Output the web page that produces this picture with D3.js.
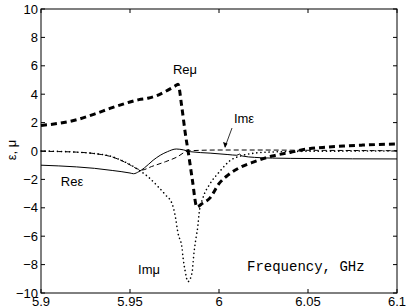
<!DOCTYPE html>
<html>
<head>
<meta charset="utf-8">
<script src="https://cdn.jsdelivr.net/npm/d3@7"></script>
<style>
  body { margin: 0; background: #fff; }
  svg { display: block; font-family: "Liberation Sans", Arial, sans-serif; }
</style>
</head>
<body>
<svg width="409" height="308"></svg>
<script>
// frequency (GHz) / value pairs
const reMuF = [5.9, 5.91, 5.92, 5.93, 5.94, 5.95, 5.955, 5.96, 5.965, 5.97, 5.975, 5.977, 5.979, 5.981, 5.983, 5.985, 5.9876, 5.99, 5.995, 6.0, 6.005, 6.012, 6.02, 6.03, 6.04, 6.05, 6.06, 6.07, 6.08, 6.09, 6.1];
const reMuV = [1.8, 1.95, 2.2, 2.6, 3.05, 3.45, 3.62, 3.72, 3.9, 4.2, 4.55, 4.7, 3.2, 1.3, -0.3, -2.0, -3.95, -3.75, -3.3, -2.3, -1.7, -1.15, -0.75, -0.35, -0.1, 0.15, 0.27, 0.35, 0.41, 0.46, 0.5];

const imMuF = [5.9, 5.91, 5.92, 5.93, 5.94, 5.945, 5.95, 5.955, 5.96, 5.9657, 5.97, 5.9736, 5.9753, 5.977, 5.9792, 5.9798, 5.9809, 5.9826, 5.9848, 5.986, 5.9871, 5.9882, 5.9888, 5.991, 5.995, 6.0, 6.006, 6.0135, 6.02, 6.03, 6.05, 6.1];
const imMuV = [0.0, -0.03, -0.08, -0.18, -0.4, -0.65, -0.95, -1.35, -1.8, -2.5, -3.1, -3.7, -4.5, -5.8, -6.8, -7.5, -8.4, -9.2, -8.6, -7.1, -6.1, -5.2, -4.4, -3.3, -2.3, -1.5, -0.7, -0.3, -0.15, -0.07, -0.02, 0.0];

const reEpsF = [5.9, 5.91, 5.92, 5.93, 5.94, 5.95, 5.952, 5.955, 5.958, 5.963, 5.967, 5.971, 5.976, 5.98, 5.984, 5.995, 6.005, 6.01, 6.0115, 6.013, 6.02, 6.03, 6.05, 6.1];
const reEpsV = [-1.0, -1.05, -1.12, -1.22, -1.37, -1.55, -1.6, -1.45, -1.2, -0.65, -0.3, -0.05, 0.14, 0.08, -0.05, -0.15, -0.25, -0.3, -0.22, -0.35, -0.45, -0.5, -0.53, -0.56];

const imEpsF = [5.9, 5.91, 5.92, 5.93, 5.94, 5.945, 5.95, 5.955, 5.9567, 5.962, 5.97, 5.976, 5.9826, 5.99, 6.0, 6.02, 6.05, 6.1];
const imEpsV = [-0.02, -0.04, -0.08, -0.18, -0.42, -0.66, -0.98, -1.3, -1.34, -1.1, -0.75, -0.45, 0.0, 0.05, 0.07, 0.07, 0.05, 0.02];

const xTicks = [5.9, 5.95, 6, 6.05, 6.1];
const yTicks = [-10, -8, -6, -4, -2, 0, 2, 4, 6, 8, 10];

const svg = d3.select("svg");
const mLeft = 41, mRight = 397, mTop = 9, mBottom = 293;

const x = d3.scaleLinear().domain([5.9, 6.1]).range([mLeft, mRight]);
const y = d3.scaleLinear().domain([-10, 10]).range([mBottom, mTop]);

const line = d3.line()
  .x(d => x(d[0]))
  .y(d => y(d[1]))
  .curve(d3.curveMonotoneX);

const zip = (f, v) => f.map((d, i) => [d, v[i]]);

const plot = svg.append("g");

// Re eps, thin solid
plot.append("path")
  .datum(zip(reEpsF, reEpsV))
  .attr("d", line)
  .attr("fill", "none")
  .attr("stroke", "#000")
  .attr("stroke-width", 1);

// Im eps, thin dashed
plot.append("path")
  .datum(zip(imEpsF, imEpsV))
  .attr("d", line)
  .attr("fill", "none")
  .attr("stroke", "#000")
  .attr("stroke-width", 1)
  .attr("stroke-dasharray", "5 3");

// Im mu, dotted
plot.append("path")
  .datum(zip(imMuF, imMuV))
  .attr("d", line)
  .attr("fill", "none")
  .attr("stroke", "#000")
  .attr("stroke-width", 1.6)
  .attr("stroke-linecap", "round")
  .attr("stroke-dasharray", "0.1 4");

// Re mu, thick dashed
plot.append("path")
  .datum(zip(reMuF, reMuV))
  .attr("d", line)
  .attr("fill", "none")
  .attr("stroke", "#000")
  .attr("stroke-width", 3)
  .attr("stroke-dasharray", "6 4");

// box and ticks
const axisG = svg.append("g").attr("stroke", "#000").attr("stroke-width", 1);
axisG.append("rect")
  .attr("x", mLeft).attr("y", mTop)
  .attr("width", mRight - mLeft).attr("height", mBottom - mTop)
  .attr("fill", "none");

xTicks.forEach(t => {
  axisG.append("line").attr("x1", x(t)).attr("x2", x(t)).attr("y1", mBottom).attr("y2", mBottom - 4);
  axisG.append("line").attr("x1", x(t)).attr("x2", x(t)).attr("y1", mTop).attr("y2", mTop + 4);
});
yTicks.forEach(t => {
  axisG.append("line").attr("x1", mLeft).attr("x2", mLeft + 4).attr("y1", y(t)).attr("y2", y(t));
  axisG.append("line").attr("x1", mRight).attr("x2", mRight - 4).attr("y1", y(t)).attr("y2", y(t));
});

// tick labels
svg.append("g").selectAll("text")
  .data(xTicks)
  .join("text")
  .attr("x", d => x(d))
  .attr("y", 306)
  .attr("text-anchor", "middle")
  .attr("font-size", 13)
  .text(d => d3.format("")(d));

svg.append("g").selectAll("text")
  .data(yTicks)
  .join("text")
  .attr("x", mLeft - 3)
  .attr("y", d => y(d) + 4.5)
  .attr("text-anchor", "end")
  .attr("font-size", 13)
  .text(d => d < 0 ? "\u2212" + Math.abs(d) : d);

// y axis title
svg.append("text")
  .attr("transform", "translate(16,150) rotate(-90)")
  .attr("text-anchor", "middle")
  .attr("font-size", 13)
  .text("ε, μ");

// curve labels
const labels = [
  { t: "Reμ", x: 185, y: 74 },
  { t: "Reε", x: 72, y: 186 },
  { t: "Imμ", x: 149, y: 274 },
  { t: "Imε", x: 244, y: 123 }
];
svg.append("g").selectAll("text")
  .data(labels)
  .join("text")
  .attr("x", d => d.x)
  .attr("y", d => d.y)
  .attr("text-anchor", "middle")
  .attr("font-size", 13)
  .text(d => d.t);

// arrow to Im eps
svg.append("line")
  .attr("x1", 232).attr("y1", 128)
  .attr("x2", 225).attr("y2", 147)
  .attr("stroke", "#000").attr("stroke-width", 0.8);
svg.append("path")
  .attr("d", "M225,148 L223,142 L227.5,143.5 Z")
  .attr("fill", "#000");

svg.append("text")
  .attr("x", 247)
  .attr("y", 271)
  .attr("font-family", "'Liberation Mono', 'Courier New', monospace")
  .attr("font-size", 14)
  .text("Frequency, GHz");
</script>
</body>
</html>
